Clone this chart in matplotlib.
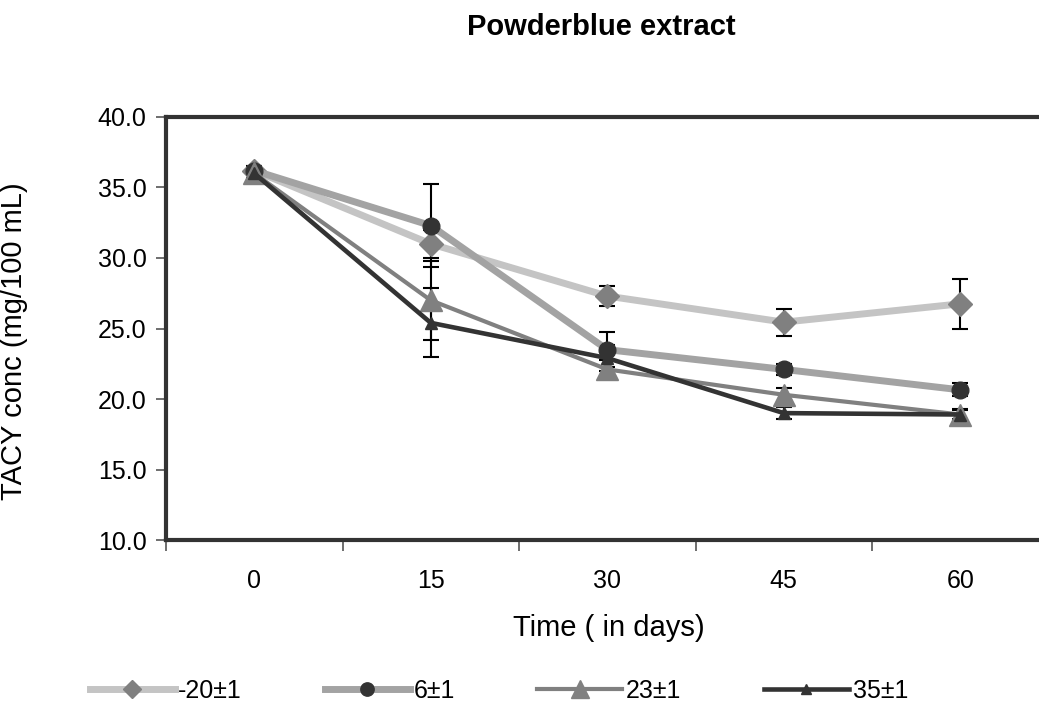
import matplotlib.pyplot as plt
import numpy as np

plt.rcParams['font.family'] = ['Liberation Sans', 'DejaVu Sans']

# data
time_days = ['0', '15', '30', '45', '60']
series_names = ['-20\u00b11', '6\u00b11', '23\u00b11', '35\u00b11']

minus20 = [36.2, 31.0, 27.3, 25.45, 26.75]
minus20_err = [0.3, 1.0, 0.7, 0.95, 1.75]
six = [36.2, 32.3, 23.5, 22.1, 20.65]
six_err = [0.3, 2.95, 1.25, 0.4, 0.45]
twenty3 = [36.0, 27.0, 22.1, 20.3, 18.9]
twenty3_err = [0.3, 2.8, 0.7, 0.5, 0.3]
thirty5 = [36.0, 25.4, 22.9, 19.0, 18.9]
thirty5_err = [0.3, 2.45, 0.9, 0.4, 0.4]

styles = [
    dict(color='#c4c4c4', lw=5.0, marker='D', ms=12, mfc='#808080', mec='#808080'),
    dict(color='#a3a3a3', lw=5.0, marker='o', ms=12, mfc='#333333', mec='#333333'),
    dict(color='#808080', lw=3.0, marker='^', ms=16, mfc='#808080', mec='#808080'),
    dict(color='#333333', lw=3.3, marker='^', ms=9, mfc='#333333', mec='#333333'),
]

fig = plt.figure(figsize=(10.39, 7.06), dpi=100)
ax = fig.add_axes([0.1598, 0.2351, 0.8494, 0.5992])

x = np.arange(len(time_days))
all_vals = [minus20, six, twenty3, thirty5]
all_errs = [minus20_err, six_err, twenty3_err, thirty5_err]

handles = []
for name, vals, errs, st in zip(series_names, all_vals, all_errs, styles):
    cont = ax.errorbar(x, vals, yerr=errs, ecolor='black', elinewidth=1.5,
                       capsize=6, capthick=1.5, zorder=3, **st)
    handles.append(cont[0])

ax.set_xlim(-0.5, 4.5)
ax.set_ylim(10, 40)
ax.set_yticks(np.arange(10, 40.1, 5))
ax.set_yticklabels([f'{v:.1f}' for v in np.arange(10, 40.1, 5)])

# category axis: ticks at boundaries, labels at centres
ax.set_xticks(np.arange(-0.5, 4.6, 1.0))
ax.set_xticklabels([])
ax.set_xticks(x, minor=True)
ax.set_xticklabels(time_days, minor=True)
ax.tick_params(axis='x', which='major', length=8, width=1.2, color='#555555')
ax.tick_params(axis='x', which='minor', length=0, pad=21, labelsize=18)
ax.tick_params(axis='y', length=7, width=1.2, color='#555555', pad=7, labelsize=18)

for side in ['left', 'bottom', 'top']:
    ax.spines[side].set_linewidth(3)
    ax.spines[side].set_color('#333333')
ax.spines['right'].set_visible(False)

ax.set_ylabel('TACY conc (mg/100 mL)', fontsize=21)
ax.yaxis.set_label_coords(-0.156, 0.47)

fig.text(609 / 1039, 1 - 628 / 706, 'Time ( in days)', fontsize=21,
         ha='center', va='center')
fig.text(601 / 1039, 1 - 27 / 706, 'Powderblue extract', fontsize=21,
         fontweight='bold', ha='center', va='center')

fig.legend(handles, series_names, loc='center', bbox_to_anchor=(0.48, 0.021),
           ncol=4, frameon=False, fontsize=18, handlelength=3.4,
           handletextpad=0.15, columnspacing=3.3, markerscale=0.8)

fig.savefig('out.png', dpi=100)
